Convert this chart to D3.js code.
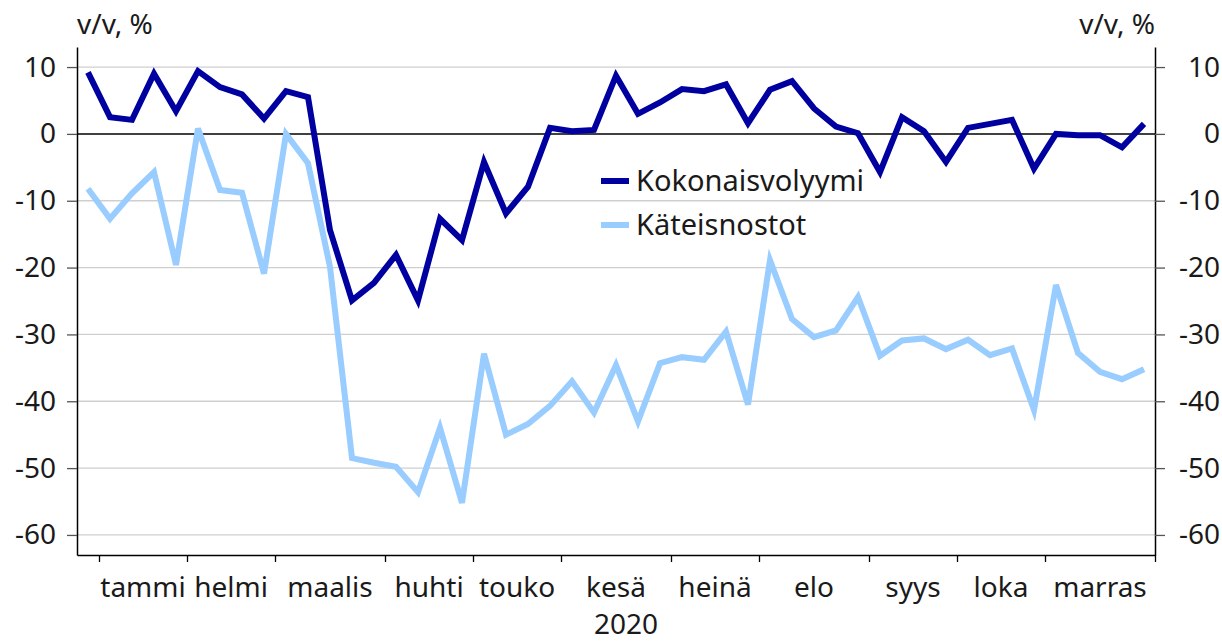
<!DOCTYPE html>
<html>
<head>
<meta charset="utf-8">
<script src="https://cdn.jsdelivr.net/npm/d3@7"></script>
<style>
  body { margin: 0; background: #fff; }
  svg text { font-family: "Noto Sans", "Open Sans", sans-serif; fill: #1a1a1a; }
</style>
</head>
<body>
<div id="chart"></div>
<script>
// weekly y/y change, %
var kokonais = [9.2, 2.5, 2.1, 9.0, 3.4, 9.4, 7.0, 5.9, 2.3, 6.4, 5.5, -14.4, -24.9, -22.3, -18.1,
  -24.9, -12.7, -15.9, -4.2, -11.9, -7.9, 0.9, 0.4, 0.6, 8.7, 3.0, 4.7, 6.7, 6.4, 7.4, 1.6,
  6.6, 7.9, 3.8, 1.1, 0.1, -5.7, 2.5, 0.4, -4.2, 0.9, 1.5, 2.1, -5.2, 0.0, -0.2, -0.2, -2.0, 1.5];
var kateis = [-8.2, -12.7, -8.9, -5.7, -19.6, 0.8, -8.4, -8.8, -20.9, 0.0, -4.4, -19.9, -48.5, -49.2, -49.8,
  -53.6, -44.0, -55.2, -32.9, -45.0, -43.4, -40.7, -37.0, -41.7, -34.6, -43.0, -34.3, -33.4, -33.8, -29.6, -40.5,
  -18.9, -27.7, -30.4, -29.4, -24.4, -33.2, -30.9, -30.6, -32.2, -30.8, -33.1, -32.1, -41.3, -22.6, -32.8, -35.6, -36.7, -35.2];
var seriesNames = ["Kokonaisvolyymi", "Käteisnostot"];
var months = ["tammi", "helmi", "maalis", "huhti", "touko", "kesä", "heinä", "elo", "syys", "loka", "marras"];
var monthBounds = [1, 5, 9, 14, 18, 22, 27, 31, 36, 40, 44, 49];   // week index where each month begins
var yTicks = [10, 0, -10, -20, -30, -40, -50, -60];
var yearLabel = "2020";
var unitLabel = "v/v, %";

var width = 1222, height = 641;
var margin = {top: 47, right: 67, bottom: 86, left: 77};
var chartW = width - margin.left - margin.right,
    chartH = height - margin.top - margin.bottom;
var colors = ["#0000a0", "#99ccff"];
var fontSize = 28;

var svg = d3.select("#chart").append("svg")
  .attr("width", width)
  .attr("height", height);

var x = d3.scaleLinear().domain([0, kokonais.length]).range([0, chartW]);
var y = d3.scaleLinear().domain([-63, 13]).range([chartH, 0]);

var g = svg.append("g")
  .attr("transform", "translate(" + margin.left + "," + margin.top + ")");

// grid
g.append("g").selectAll("line")
  .data(yTicks.filter(function(d) { return d !== 0; }))
  .enter().append("line")
  .attr("x1", 0).attr("x2", chartW)
  .attr("y1", function(d) { return y(d); })
  .attr("y2", function(d) { return y(d); })
  .attr("stroke", "#cfcfcf")
  .attr("stroke-width", 1.3);

// y axes (plain hyphen as minus, like the original)
var fmt = function(d) { return String(d); };
var yLeft = d3.axisLeft(y).tickValues(yTicks).tickSize(10).tickSizeOuter(0).tickPadding(9).tickFormat(fmt);
var yRight = d3.axisRight(y).tickValues(yTicks).tickSize(10).tickSizeOuter(0).tickPadding(9).tickFormat(fmt);

var gl = g.append("g").call(yLeft);
var gr = g.append("g").attr("transform", "translate(" + chartW + ",0)").call(yRight);
[gl, gr].forEach(function(a) {
  a.select(".domain").attr("stroke", "#000").attr("stroke-width", 1.5);
  a.selectAll(".tick line").attr("stroke", "#555").attr("stroke-width", 1.3);
  a.selectAll("text").attr("font-size", fontSize).attr("fill", "#1a1a1a")
    .style("font-family", '"Noto Sans", sans-serif');
});
gl.selectAll("text").attr("x", -21);
gr.selectAll("text").attr("text-anchor", "end").attr("x", 65);

// x axis with month boundary ticks
var xAxis = d3.axisBottom(x).tickValues(monthBounds).tickSize(7).tickSizeOuter(0).tickFormat("");
var gx = g.append("g").attr("transform", "translate(0," + chartH + ")").call(xAxis);
gx.select(".domain").attr("stroke", "#000").attr("stroke-width", 1.5);
gx.selectAll(".tick line").attr("stroke", "#000").attr("stroke-width", 1.3);

g.append("g").selectAll("text")
  .data(months)
  .enter().append("text")
  .attr("x", function(d, i) { return x((monthBounds[i] + monthBounds[i + 1]) / 2); })
  .attr("y", chartH + 42)
  .attr("text-anchor", "middle")
  .attr("font-size", fontSize)
  .text(function(d) { return d; });

g.append("text")
  .attr("x", x(24.5) + 10)
  .attr("y", chartH + 79)
  .attr("text-anchor", "middle")
  .attr("font-size", fontSize)
  .text(yearLabel);

// zero line
g.append("line")
  .attr("x1", 0).attr("x2", chartW)
  .attr("y1", y(0)).attr("y2", y(0))
  .attr("stroke", "#000").attr("stroke-width", 1.5);

// unit labels
svg.append("text").attr("x", margin.left).attr("y", 34)
  .attr("font-size", fontSize).text(unitLabel);
svg.append("text").attr("x", margin.left + chartW).attr("y", 34)
  .attr("text-anchor", "end").attr("font-size", fontSize).text(unitLabel);

// lines
var line = d3.line()
  .x(function(d, i) { return x(i + 0.5); })
  .y(function(d) { return y(d); });

[kateis, kokonais].forEach(function(s, k) {
  g.append("path")
    .datum(s)
    .attr("fill", "none")
    .attr("stroke", colors[1 - k])
    .attr("stroke-width", 6)
    .attr("stroke-linejoin", "miter")
    .attr("d", line);
});

// legend
var legend = svg.append("g").attr("transform", "translate(601,181)");
seriesNames.forEach(function(name, i) {
  var row = legend.append("g").attr("transform", "translate(0," + (i * 44) + ")");
  row.append("line").attr("x1", 0).attr("x2", 28).attr("y1", 0).attr("y2", 0)
    .attr("stroke", colors[i]).attr("stroke-width", 6);
  row.append("text").attr("x", 35).attr("y", 10).attr("font-size", 29).text(name);
});
</script>
</body>
</html>
